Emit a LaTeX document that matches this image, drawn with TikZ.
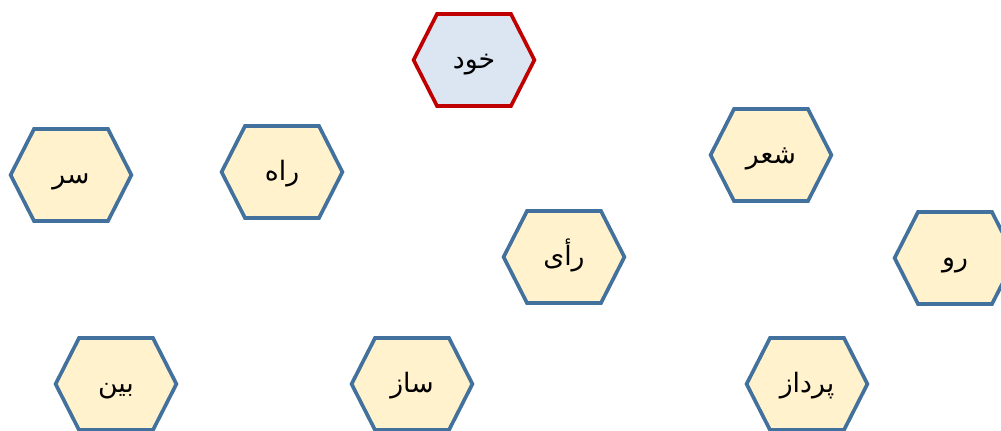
\documentclass[tikz,border=0pt]{standalone}
\usepackage{fontspec}
\newfontfamily\arabicfont[Script=Arabic]{DejaVu Sans}
\TeXXeTstate=1
\usetikzlibrary{shapes.symbols}
\definecolor{HexFill}{RGB}{255,242,204}
\definecolor{HexLine}{RGB}{65,113,156}
\definecolor{TopFill}{RGB}{220,230,242}
\definecolor{TopLine}{RGB}{192,0,0}
\tikzset{
  hexbox/.style={signal, signal to=east and west, signal pointer angle=126,
    minimum width=3.02cm, minimum height=2.3cm,
    text height=0.4cm, text depth=0pt,
    inner sep=0pt, line width=2.6pt, draw=HexLine, fill=HexFill,
    font=\arabicfont\fontsize{19}{22}\selectfont},
  tophex/.style={hexbox, draw=TopLine, fill=TopFill}
}
\begin{document}
\begin{tikzpicture}[x=0.025cm, y=-0.025cm]
  \useasboundingbox (0,0) rectangle (1001,430);
  \node[tophex] (khod) at (474,60) {\beginR خود\endR};
  % word parts around the root
  \foreach \nm/\px/\py/\word in {sar/71/175/سر, rah/282/172/راه,
      ray/564/257/رأی, sher/771/155/شعر, ru/955/258/رو,
      bin/116/384/بین, saz/412/384/ساز, pardaz/807/384/پرداز} {
    \node[hexbox] (\nm) at (\px,\py) {\beginR\word\endR};
  }
\end{tikzpicture}
\end{document}
